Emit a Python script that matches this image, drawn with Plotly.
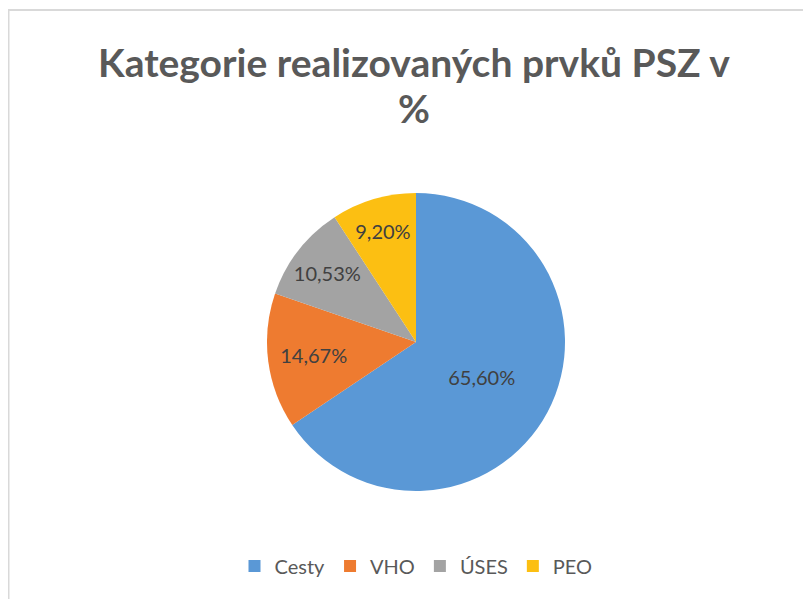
import plotly.graph_objects as go

categories = ["Cesty", "VHO", "ÚSES", "PEO"]
values = [65.60, 14.67, 10.53, 9.20]
colors = ["#5A98D6", "#EE7B30", "#A3A3A3", "#FCBF12"]
labels_text = [f"{v:.2f}".replace(".", ",") + "%" for v in values]

# page has an 8px body margin, so figure coords = page coords - 8
OFF = 8
W, H = 811 - OFF, 599 - OFF
cx, cy, r = 416 - OFF, 342 - OFF, 149

FONT = "Lato"

fig = go.Figure()
fig.add_trace(go.Pie(
    labels=categories,
    values=values,
    text=labels_text,
    textinfo="text",
    textposition="inside",
    insidetextorientation="horizontal",
    sort=False,
    direction="clockwise",
    rotation=0,
    marker=dict(colors=colors, line=dict(color="white", width=0)),
    textfont=dict(family=FONT, size=20, color="#404040"),
    domain=dict(x=[(cx - r) / W, (cx + r) / W], y=[(H - cy - r) / H, (H - cy + r) / H]),
    hoverinfo="label+percent",
))

fig.update_layout(
    width=W, height=H,
    margin=dict(l=0, r=0, t=0, b=0),
    paper_bgcolor="white",
    plot_bgcolor="white",
    showlegend=True,
    legend=dict(
        orientation="h",
        x=(416 - OFF) / W, xanchor="center",
        y=(H - (566 - OFF)) / H, yanchor="middle",
        font=dict(family=FONT, size=20, color="#595959"),
        itemwidth=30,
        traceorder="normal",
    ),
    annotations=[
        dict(text="<b>Kategorie realizovaných prvků PSZ v</b>", x=(414 - OFF) / W, y=(H - (62 - OFF)) / H,
             xref="paper", yref="paper", showarrow=False, xanchor="center", yanchor="middle",
             font=dict(family=FONT, size=39, color="#595959")),
        dict(text="<b>%</b>", x=(414 - OFF) / W, y=(H - (108 - OFF)) / H,
             xref="paper", yref="paper", showarrow=False, xanchor="center", yanchor="middle",
             font=dict(family=FONT, size=39, color="#595959")),
    ],
    shapes=[
        dict(type="line", xref="paper", yref="paper", x0=0, x1=1.0, y0=(H - 2) / H, y1=(H - 2) / H,
             line=dict(color="#d9d9d9", width=2)),
        dict(type="line", xref="paper", yref="paper", x0=0.5 / W, x1=0.5 / W, y0=0, y1=(H - 2) / H,
             line=dict(color="#d9d9d9", width=2)),
    ],
)

fig.write_html("out.html")
